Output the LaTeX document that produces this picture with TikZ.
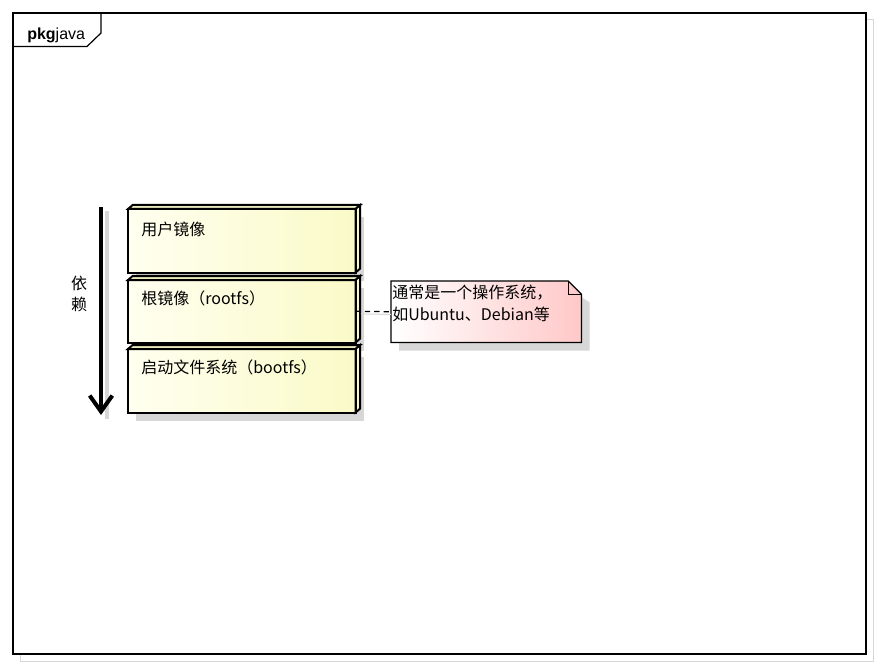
\documentclass[tikz,border=0pt]{standalone}
\usepackage{fontspec}
\setmainfont{Liberation Sans}
\newfontfamily\cjk{Noto Sans CJK SC}
\usetikzlibrary{calc,arrows.meta}
\definecolor{shadowgray}{RGB}{215,215,215}
\definecolor{boxleft}{RGB}{255,255,240}
\definecolor{boxright}{RGB}{250,250,200}
\definecolor{boxside}{RGB}{235,235,190}
\definecolor{notepink}{RGB}{255,200,200}
\tikzset{
  x=0.75pt, y=-0.75pt,
  layerbox/.style={draw=none, minimum width=170.25pt, minimum height=47.25pt, inner sep=0pt, anchor=north west},
  boxtext/.style={anchor=west, inner sep=0pt, font=\cjk\fontsize{12pt}{14pt}\selectfont},
  notetext/.style={anchor=north west, inner sep=0pt, align=left, font=\cjk\fontsize{12pt}{16.5pt}\selectfont},
  edge3d/.style={draw=black, line width=1.5pt, line join=miter},
}
\newcommand{\layerbox}[1]{%
  \fill[shadowgray] ($(#1.north west)+(6pt,-6pt)$) rectangle ($(#1.south east)+(6pt,-6pt)$);
  \shade[left color=boxleft, right color=boxright] (#1.north west) rectangle (#1.south east);
  \filldraw[edge3d, fill=boxside] (#1.north west) -- ++(3.5pt,3pt) -- ($(#1.north east)+(3.5pt,3pt)$) -- (#1.north east) -- cycle;
  \filldraw[edge3d, fill=boxright] (#1.north east) -- ++(3.5pt,3pt) -- ($(#1.south east)+(3.5pt,3pt)$) -- (#1.south east) -- cycle;
  \draw[edge3d] (#1.north west) rectangle (#1.south east);
}
\begin{document}
\begin{tikzpicture}
\useasboundingbox (0,0) rectangle (880,666);
\fill[white] (0,0) rectangle (880,666);
% outer frame with shadow
\draw[shadowgray, line width=0.75pt] (20,20) rectangle (873,661);
\fill[white] (13,13) rectangle (866,654);
\draw[black, line width=0.9pt] (13,13) rectangle (866,654);
\draw[black, line width=0.9pt] (13,46.5) -- (87,46.5) -- (101,33) -- (101,13);
\node[anchor=base west, inner sep=0pt, font=\fontsize{12pt}{14pt}\selectfont] (pkg) at (27,40) {\textbf{pkg}java};

% layers
\node[layerbox] (b1) at (128,209) {};
\node[layerbox, minimum height=46.5pt] (b2) at (128,280) {};
\node[layerbox] (b3) at (128,349) {};
\layerbox{b1}
\layerbox{b2}
\layerbox{b3}
\node[boxtext] (t1) at (141,229) {用户镜像};
\node[boxtext] (t2) at (141,298) {根镜像（rootfs）};
\node[boxtext] (t3) at (141,367) {启动文件系统（bootfs）};

% dependency arrow
\coordinate (atop) at (101,207);
\coordinate (abot) at (101,415);
\draw[shadowgray, line width=3pt] ($(atop)+(4.5pt,-3pt)$) -- ($(abot)+(4.5pt,-3pt)$);
\draw[black, line width=3pt, -{Straight Barb[length=12pt,width=17pt,line width=3pt]}] (atop) -- (abot);
\node[boxtext, anchor=center] (dep1) at (79,283) {依};
\node[boxtext, anchor=center] (dep2) at (79,304) {赖};

% note
\node[draw=none, minimum width=142.5pt, minimum height=45.75pt, inner sep=0pt, anchor=north west] (note) at (391,281) {};
\fill[shadowgray] ($(note.north west)+(6pt,-6pt)$) -- ($(note.north east)+(-10pt,-6pt)$) -- ($(note.north east)+(6pt,-16pt)$) -- ($(note.south east)+(6pt,-6pt)$) -- ($(note.south west)+(6pt,-6pt)$) -- cycle;
\shade[left color=white, right color=notepink] (note.north west) -- ($(note.north east)+(-10pt,0)$) -- ($(note.north east)+(0,-10pt)$) -- (note.south east) -- (note.south west) -- cycle;
\draw[black, line width=0.9pt] (note.north west) -- ($(note.north east)+(-10pt,0)$) -- ($(note.north east)+(0,-10pt)$) -- (note.south east) -- (note.south west) -- cycle;
\draw[black, line width=0.9pt] ($(note.north east)+(-10pt,0)$) |- ($(note.north east)+(0,-10pt)$);
\node[notetext] (nt) at (392,285) {通常是一个操作系统，\\如Ubuntu、Debian等};

% connector
\draw[shadowgray, line width=0.75pt] ($(b2.east)+(4pt,-2pt)$) -- ($(note.west)+(0,-2pt)$);
\draw[black, line width=0.9pt, dash pattern=on 4pt off 3pt] (b2.east) -- (note.west);
\end{tikzpicture}
\end{document}
